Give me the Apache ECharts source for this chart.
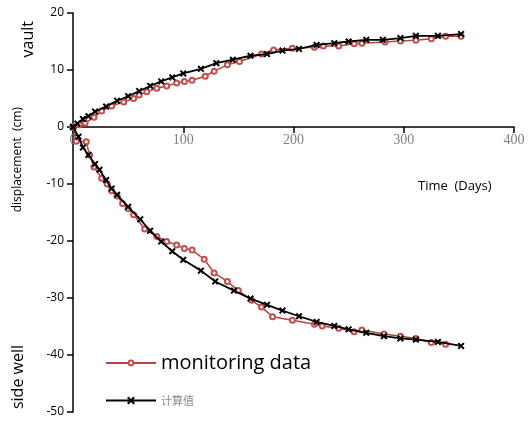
<!DOCTYPE html>
<html><head><meta charset="utf-8">
<script src="https://cdn.jsdelivr.net/npm/echarts@6/dist/echarts.min.js"></script>
<style>html,body{margin:0;padding:0;background:#fff}#c{width:528px;height:425px}</style>
</head><body><div id="c"></div>
<script>
// Tick values
const xTicks = [0, 100, 200, 300, 400];
const yTicks = [-50, -40, -30, -20, -10, 0, 10, 20];
// Monitoring data (vault)
const monVaultDays = [0, 6, 11, 19, 26, 35, 46, 55, 60, 67, 76, 85, 94, 101, 108, 120, 128, 140, 151, 171, 182, 199, 219, 227, 241, 255, 262, 283, 297, 311, 325, 338, 352];
const monVaultVals = [0, 0.4, 0.7, 1.7, 2.8, 3.7, 4.4, 5.0, 5.6, 6.2, 6.8, 7.2, 7.7, 8.0, 8.2, 8.9, 9.8, 10.9, 11.5, 12.8, 13.5, 13.8, 14.0, 14.2, 14.2, 14.6, 14.7, 14.9, 15.1, 15.2, 15.5, 15.9, 15.9];
// Calculated values (vault)
const calVaultDays = [0, 4, 9, 14, 20, 30, 40, 50, 60, 70, 80, 90, 100, 116, 130, 145, 161, 176, 190, 205, 221, 237, 250, 266, 281, 297, 311, 331, 352];
const calVaultVals = [0, 0.6, 1.4, 1.9, 2.7, 3.6, 4.6, 5.4, 6.3, 7.2, 8.0, 8.7, 9.4, 10.2, 11.2, 11.8, 12.5, 12.8, 13.4, 13.7, 14.4, 14.7, 15.0, 15.3, 15.3, 15.6, 16.0, 16.0, 16.3];
// Monitoring data (side well)
const monWallDays = [0, 3, 12, 15, 19, 26, 31, 35, 40, 45, 50, 55, 65, 76, 85, 94, 101, 108, 119, 128, 140, 150, 162, 171, 181, 199, 219, 226, 241, 255, 262, 282, 297, 311, 325, 338];
const monWallVals = [0, -2.5, -2.6, -4.9, -7.0, -9.0, -10.0, -11.2, -12.1, -13.4, -14.3, -15.4, -17.9, -19.2, -20.1, -20.7, -21.3, -21.6, -23.2, -25.6, -27.1, -28.7, -30.4, -31.6, -33.3, -33.9, -34.6, -34.9, -35.3, -35.9, -35.6, -36.3, -36.7, -37.1, -37.8, -38.1];
// Calculated values (side well)
const calWallDays = [0, 5, 9, 14, 20, 24, 30, 35, 40, 50, 61, 70, 80, 90, 100, 116, 129, 146, 161, 176, 190, 205, 221, 237, 250, 266, 282, 297, 311, 331, 352];
const calWallVals = [0, -1.7, -3.6, -4.9, -6.5, -7.5, -9.3, -10.8, -11.9, -14.0, -16.2, -18.2, -20.1, -21.8, -23.3, -25.2, -27.1, -28.7, -30.1, -31.2, -32.2, -33.2, -34.2, -34.9, -35.5, -36.1, -36.7, -37.1, -37.3, -37.7, -38.4];

const seriesNames = ['monitoring data', '计算值'];
const pair = (xs, ys) => xs.map((x, i) => [x, ys[i]]);
const X_SYMBOL = 'path://M2,0L5,3L8,0L10,2L7,5L10,8L8,10L5,7L2,10L0,8L3,5L0,2Z';
const RED = '#b5433f';
const mon = (d) => ({
  name: seriesNames[0], type: 'line', data: d, symbol: 'emptyCircle', symbolSize: 5,
  lineStyle: { color: RED, width: 1.5 }, itemStyle: { color: '#c0504d', borderColor: '#c0504d', borderWidth: 1.2 },
  z: 2, animation: false
});
const cal = (d) => ({
  name: seriesNames[1], type: 'line', data: d, symbol: X_SYMBOL, symbolSize: 7,
  lineStyle: { color: '#000', width: 1.8 }, itemStyle: { color: '#000' },
  z: 3, animation: false
});

const GRID_TOP = 13, GRID_BOTTOM = 13, H = 425;
const plotH = H - GRID_TOP - GRID_BOTTOM;
const yMin = yTicks[0], yMax = yTicks[yTicks.length - 1];
// distance of the zero line above the bottom edge of the plot
const zeroFromBottom = plotH * (0 - yMin) / (yMax - yMin);

const chart = echarts.init(document.getElementById('c'), null, { renderer: 'canvas' });
chart.setOption({
  animation: false,
  grid: { left: 73, right: 14, top: GRID_TOP, bottom: GRID_BOTTOM, containLabel: false, outerBoundsMode: 'none' },
  xAxis: {
    type: 'value', min: xTicks[0], max: xTicks[xTicks.length - 1], interval: 100,
    position: 'bottom', offset: -zeroFromBottom,
    axisLine: { onZero: false, lineStyle: { color: '#000', width: 1.5 } },
    axisTick: { show: true, inside: false, length: 6, lineStyle: { color: '#000', width: 1.5 } },
    axisLabel: { color: '#808080', fontFamily: 'Liberation Serif', fontSize: 14, margin: 6 },
    splitLine: { show: false }
  },
  yAxis: {
    type: 'value', min: yMin, max: yMax, interval: 10,
    axisLine: { show: true, onZero: false, lineStyle: { color: '#000', width: 1.5 } },
    axisTick: { show: true, inside: false, length: 6, lineStyle: { color: '#000', width: 1.5 } },
    axisLabel: { color: '#000', fontFamily: 'Open Sans', fontSize: 12, margin: 9 },
    splitLine: { show: false }
  },
  legend: [
    { data: [{ name: seriesNames[0], textStyle: { fontSize: 20, color: '#000', fontFamily: 'Open Sans' } }],
      left: 100, top: 348, itemWidth: 50, itemHeight: 6, itemGap: 6, selectedMode: false },
    { data: [{ name: seriesNames[1], textStyle: { fontSize: 11, color: '#888', fontFamily: 'Noto Sans CJK SC' } }],
      left: 100, top: 390, itemWidth: 50, itemHeight: 10, itemGap: 6, selectedMode: false }
  ],
  graphic: [
    { type: 'text', left: 20, top: 21, rotation: Math.PI / 2,
      style: { text: 'vault', font: '16px "Open Sans"', fill: '#000' } },
    { type: 'text', left: 12, top: 107, rotation: Math.PI / 2,
      style: { text: 'displacement  (cm)', font: '12px "Open Sans"', fill: '#000' } },
    { type: 'text', left: 10, top: 345, rotation: Math.PI / 2,
      style: { text: 'side well', font: '16px "Open Sans"', fill: '#000' } },
    { type: 'text', left: 418, top: 180,
      style: { text: 'Time  (Days)', font: '13px "Open Sans"', fill: '#000' } }
  ],
  series: [
    mon(pair(monVaultDays, monVaultVals)),
    mon(pair(monWallDays, monWallVals)),
    cal(pair(calVaultDays, calVaultVals)),
    cal(pair(calWallDays, calWallVals))
  ]
});
</script></body></html>
